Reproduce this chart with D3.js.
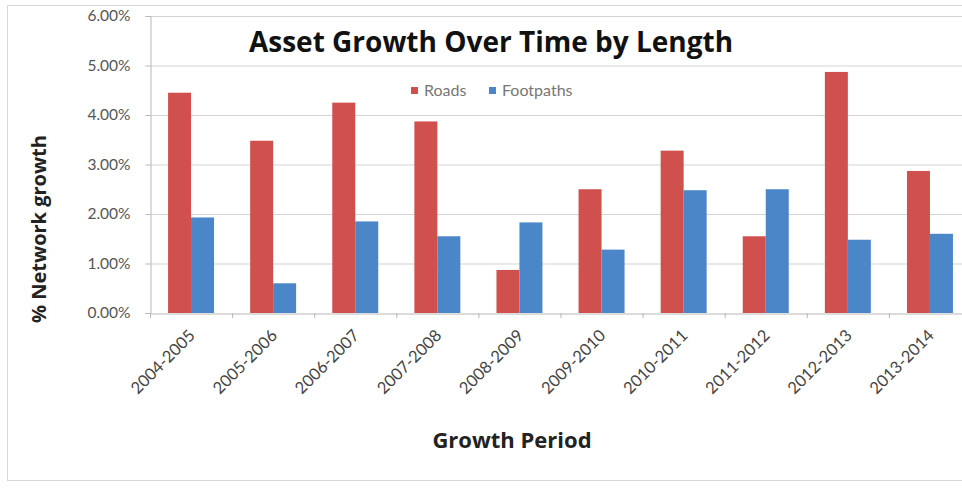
<!DOCTYPE html>
<html><head><meta charset="utf-8">
<script src="https://cdn.jsdelivr.net/npm/d3@7"></script>
<style>html,body{margin:0;padding:0;background:#fff;}svg{display:block;}</style>
</head><body>
<svg id="chart" width="962" height="488"></svg>
<script>
const categories = ["2004-2005","2005-2006","2006-2007","2007-2008","2008-2009","2009-2010","2010-2011","2011-2012","2012-2013","2013-2014"];
const roads = [4.45,3.48,4.25,3.87,0.87,2.50,3.28,1.55,4.87,2.87];
const footpaths = [1.93,0.60,1.85,1.55,1.83,1.28,2.48,2.50,1.48,1.60];
const seriesNames = ["Roads","Footpaths"];
const seriesColors = ["#d0504e","#4a86c8"];
const yTicks = [0,1,2,3,4,5,6];

const svg = d3.select("#chart");
const W = 962, H = 488;
const m = {left:150, right:-9, top:16, bottom:175};
const x0 = d3.scaleBand().domain(categories).range([m.left, W - m.right]).paddingInner(0.44).paddingOuter(0.22);
const x1 = d3.scaleBand().domain(seriesNames).range([0, x0.bandwidth()]);
const y = d3.scaleLinear().domain([0,6]).range([H - m.bottom, m.top]);

// outer border
svg.append("rect").attr("x",7.5).attr("y",5.5).attr("width",W+10).attr("height",475).attr("fill","#fff").attr("stroke","#d8d8d8");

// gridlines
svg.append("g").selectAll("line").data(yTicks.filter(d=>d>0)).join("line")
  .attr("x1",m.left).attr("x2",W).attr("y1",d=>y(d)+0.5).attr("y2",d=>y(d)+0.5)
  .attr("stroke","#d4d4d4").attr("stroke-width",1.2);

// y axis
const yAxis = d3.axisLeft(y).tickValues(yTicks).tickFormat(d=>d3.format(".2f")(d)+"%").tickSize(5).tickPadding(15);
const gy = svg.append("g").attr("transform",`translate(${m.left+0.5},0)`).call(yAxis);
gy.select(".domain").attr("stroke","#b8b8b8");
gy.selectAll(".tick line").attr("stroke","#b8b8b8");
gy.selectAll("text").attr("font-family","Lato, sans-serif").attr("font-size",15.5).attr("fill","#555");

// bars
const data = categories.map((c,i)=>({cat:c, vals:[roads[i], footpaths[i]]}));
const groups = svg.append("g").selectAll("g").data(data).join("g")
  .attr("transform",d=>`translate(${x0(d.cat)},0)`);
groups.selectAll("rect").data(d=>d.vals.map((v,j)=>({name:seriesNames[j], v, j}))).join("rect")
  .attr("x",d=>x1(d.name)).attr("width",x1.bandwidth())
  .attr("y",d=>y(d.v)).attr("height",d=>y(0)-y(d.v))
  .attr("fill",d=>seriesColors[d.j]);

// x axis
const xAxis = d3.axisBottom(x0).tickSize(0).tickFormat(d=>d);
const gx = svg.append("g").attr("transform",`translate(0,${y(0)+0.5})`).call(xAxis);
gx.select(".domain").attr("stroke","#b8b8b8");
gx.selectAll("text")
  .attr("font-family","Lato, sans-serif").attr("font-size",16.5).attr("fill","#444")
  .attr("text-anchor","end")
  .attr("transform","translate(1,19) rotate(-45)")
  .attr("dy","0.35em").attr("y",0).attr("x",0);
// category separator ticks
const step = x0.step();
svg.append("g").selectAll("line").data(d3.range(categories.length+1)).join("line")
  .attr("x1",i=>m.left + i*step + 0.5).attr("x2",i=>m.left + i*step + 0.5)
  .attr("y1",y(0)).attr("y2",y(0)+5).attr("stroke","#b8b8b8");

// title
svg.append("text").attr("x",491).attr("y",52).attr("text-anchor","middle")
  .attr("font-family","'Open Sans', sans-serif").attr("font-weight","bold").attr("font-size",28).attr("fill","#111")
  .text("Asset Growth Over Time by Length");

// legend
const lg = svg.append("g").attr("transform","translate(411,90)");
const items = lg.selectAll("g").data(seriesNames).join("g").attr("transform",(d,i)=>`translate(${i*78},0)`);
items.append("rect").attr("x",0).attr("y",-3).attr("width",7).attr("height",7).attr("fill",(d,i)=>seriesColors[i]);
items.append("text").attr("x",13).attr("y",0).attr("dy","0.35em")
  .attr("font-family","Lato, sans-serif").attr("font-size",16).attr("fill","#777").text(d=>d);

// axis titles
svg.append("text").attr("transform","translate(46,229) rotate(-90)").attr("text-anchor","middle")
  .attr("font-family","'Open Sans', sans-serif").attr("font-weight","bold").attr("font-size",20).attr("fill","#222")
  .text("% Network growth");
svg.append("text").attr("x",512).attr("y",448).attr("text-anchor","middle")
  .attr("font-family","'Open Sans', sans-serif").attr("font-weight","bold").attr("font-size",22).attr("fill","#222")
  .text("Growth Period");
</script>
</body></html>
